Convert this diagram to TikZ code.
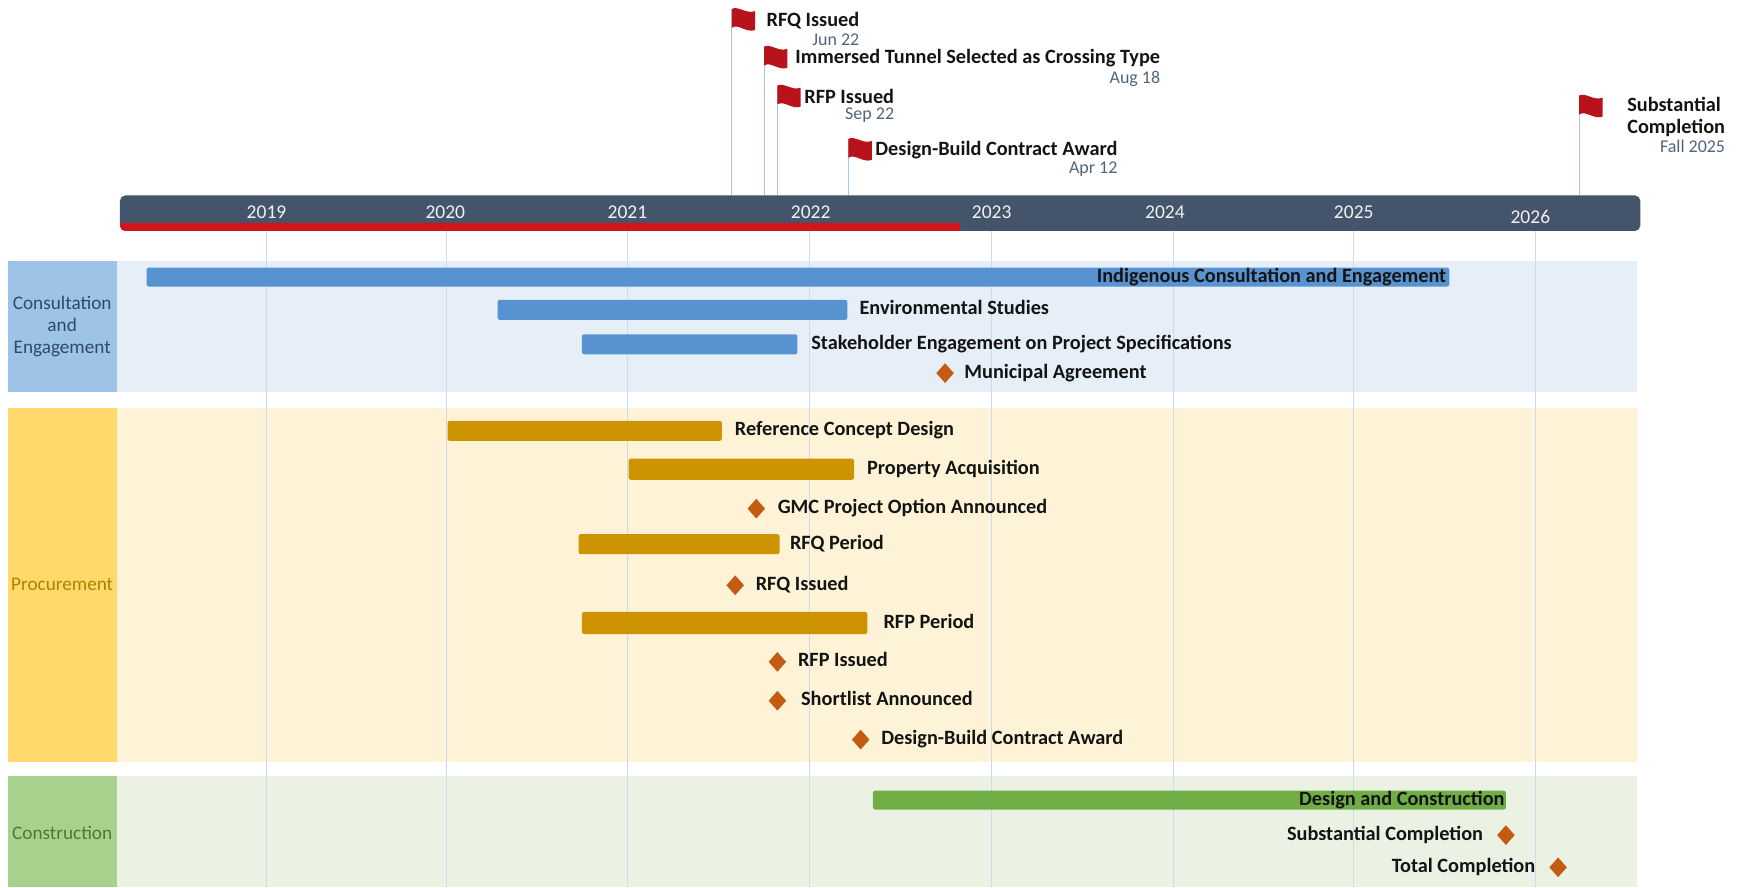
\documentclass[tikz,border=0pt]{standalone}
\usepackage{fontspec}
\setmainfont{Carlito}
\usepackage{tikz}
\usetikzlibrary{positioning,fit,shapes.geometric}

\definecolor{barslate}{HTML}{44546A}
\definecolor{stripred}{HTML}{D2141C}
\definecolor{flagred}{HTML}{B8121B}
\definecolor{gridblue}{HTML}{C9DCEF}
\definecolor{poleblue}{HTML}{A9C4E4}
\definecolor{consbox}{HTML}{9DC3E6}
\definecolor{consband}{HTML}{E6EEF8}
\definecolor{constxt}{HTML}{2F4A6B}
\definecolor{procbox}{HTML}{FFD96B}
\definecolor{procband}{HTML}{FFF3D7}
\definecolor{proctxt}{HTML}{B08000}
\definecolor{buildbox}{HTML}{A9D18E}
\definecolor{buildband}{HTML}{EBF2E3}
\definecolor{buildtxt}{HTML}{4E7A30}
\definecolor{taskblue}{HTML}{5693D0}
\definecolor{taskgold}{HTML}{CE9300}
\definecolor{taskgreen}{HTML}{70AD47}
\definecolor{mileorange}{HTML}{C55A11}
\definecolor{dategray}{HTML}{52647D}

\begin{document}
\begin{tikzpicture}[x=0.025cm, y=-0.025cm,
  lbl/.style={font=\fontsize{13}{15}\selectfont\bfseries, inner sep=0pt,
    text height=9pt, text depth=2.5pt, text=black!92},
  flaglbl/.style={font=\fontsize{13}{14.2}\selectfont\bfseries, inner sep=0pt, text=black!92},
  datelbl/.style={font=\fontsize{11.5}{13}\selectfont, inner sep=0pt, text=dategray},
  yearlbl/.style={font=\fontsize{12.5}{14}\selectfont, inner sep=0pt, text=white!92!barslate},
  seclbl/.style={font=\fontsize{12.3}{14.2}\selectfont, align=center, inner sep=0pt},
  secbox/.style={inner sep=0pt},
  taskbar/.style={inner sep=0pt, rounded corners=0.05cm},
  bluebar/.style={taskbar, fill=taskblue},
  goldbar/.style={taskbar, fill=taskgold},
  greenbar/.style={taskbar, fill=taskgreen},
  mile/.style={diamond, fill=mileorange, inner sep=0pt, minimum width=0.4cm, minimum height=0.45cm},
  grid/.style={gridblue, line width=0.6pt},
  pole/.style={poleblue, line width=0.6pt},
  timebar/.style={fill=barslate, inner sep=0pt, rounded corners=0.12cm},
  redflag/.pic={\fill[flagred] (0,0) .. controls (6,-3) and (13,5) .. (21,2)
    -- (21,19) .. controls (13,22) and (6,13) .. (0,17) -- cycle;}
]
\useasboundingbox (0,0) rectangle (1565,799);

% draw section bands
\fill[consband] (105,235) rectangle (1474,353);
\fill[procband] (105,367) rectangle (1474,686);
\fill[buildband] (105,699) rectangle (1474,799);

% draw section labels
\node[secbox, fill=consbox, fit={(7,235) (105,353)}] (sCons) {};
\node[seclbl, text=constxt] (tCons) at (sCons) {Consultation\\and\\Engagement};
\node[secbox, fill=procbox, fit={(7,367) (105,686)}] (sProc) {};
\node[seclbl, text=proctxt] (tProc) at (sProc) {Procurement};
\node[secbox, fill=buildbox, fit={(7,699) (105,799)}] (sBuild) {};
\node[seclbl, text=buildtxt] (tBuild) at ([yshift=-0.02cm]sBuild.center) {Construction};

% draw gridlines
\foreach \x in {240,402,565,729,893,1057,1219,1383}
  \draw[grid] (\x,208) -- (\x,799);

% consultation and engagement
\node[bluebar, fit={(132,241) (1305,258)}] (bInd) {};
\node[lbl, anchor=east] (lInd) at ([xshift=-0.07cm]bInd.east) {Indigenous Consultation and Engagement};
\node[bluebar, fit={(448,270) (763,288)}] (bEnv) {};
\node[lbl, right=0.26cm of bEnv] (lEnv) {Environmental Studies};
\node[bluebar, fit={(524,301) (718,319)}] (bStk) {};
\node[lbl, right=0.3cm of bStk] (lStk) {Stakeholder Engagement on Project Specifications};
\node[mile] (mMun) at (851,336) {};
\node[lbl, right=0.22cm of mMun] (lMun) {Municipal Agreement};

% procurement
\node[goldbar, fit={(403,379) (650,397)}] (bRef) {};
\node[lbl, right=0.28cm of bRef] (lRef) {Reference Concept Design};
\node[goldbar, fit={(566,413) (769,432)}] (bProp) {};
\node[lbl, right=0.28cm of bProp] (lProp) {Property Acquisition};
\node[mile] (mGmc) at (681,458) {};
\node[lbl, right=0.27cm of mGmc] (lGmc) {GMC Project Option Announced};
\node[goldbar, fit={(521,481) (702,499)}] (bRfq) {};
\node[lbl, right=0.22cm of bRfq] (lRfq) {RFQ Period};
\node[mile] (mRfq) at (662,527) {};
\node[lbl, right=0.25cm of mRfq] (lRfqI) {RFQ Issued};
\node[goldbar, fit={(524,551) (781,571)}] (bRfp) {};
\node[lbl, right=0.35cm of bRfp] (lRfp) {RFP Period};
\node[mile] (mRfp) at (700,596) {};
\node[lbl, right=0.25cm of mRfp] (lRfpI) {RFP Issued};
\node[mile] (mShort) at (700,631) {};
\node[lbl, right=0.32cm of mShort] (lShort) {Shortlist Announced};
\node[mile] (mDb) at (775,666) {};
\node[lbl, right=0.25cm of mDb] (lDb) {Design-Build Contract Award};

% construction
\node[greenbar, fit={(786,712) (1356,729)}] (bDc) {};
\node[lbl, anchor=east] (lDc) at ([xshift=-0.03cm]bDc.east) {Design and Construction};
\node[mile] (mSub) at (1356,752) {};
\node[lbl, left=0.3cm of mSub] (lSub) {Substantial Completion};
\node[mile] (mTot) at (1403,781) {};
\node[lbl, left=0.3cm of mTot] (lTot) {Total Completion};

% draw timeline
\node[timebar, fit={(108,176) (1477,208)}] (tbar) {};
\begin{scope}
  \clip[rounded corners=0.12cm] (108,176) rectangle (1477,208);
  \fill[stripred] (108,201) rectangle (864,208);
\end{scope}
\foreach \x/\yr in {240/2019,401/2020,565/2021,730/2022,893/2023,1049/2024,1219/2025}
  \node[yearlbl] (y\yr) at (\x,191) {\yr};
\node[yearlbl] (y2026) at (1378,195) {2026};

% draw flags
\foreach \n/\x/\y in {RFQ/659/8, Imm/688/42, RFP/700/77, DB/764/125, SC/1422/86} {
  \coordinate (f\n) at (\x,\y);
  \draw[pole] (f\n) -- (f\n |- tbar.north);
  \pic at (f\n) {redflag};
}
\node[flaglbl, anchor=west] (lfRFQ) at (690,19) {RFQ Issued};
\node[datelbl, anchor=east] (dfRFQ) at ([yshift=-0.41cm]lfRFQ.east) {Jun 22};
\node[flaglbl, anchor=west] (lfImm) at (716,52) {Immersed Tunnel Selected as Crossing Type};
\node[datelbl, anchor=east] (dfImm) at ([yshift=-0.48cm]lfImm.east) {Aug 18};
\node[flaglbl, anchor=west] (lfRFP) at (724,87) {RFP Issued};
\node[datelbl, anchor=east] (dfRFP) at ([yshift=-0.42cm]lfRFP.east) {Sep 22};
\node[flaglbl, anchor=west] (lfDB) at (788,135) {Design-Build Contract Award};
\node[datelbl, anchor=east] (dfDB) at ([yshift=-0.43cm]lfDB.east) {Apr 12};
\node[flaglbl, anchor=west, align=left] (lfSC) at (1465,105) {Substantial\\Completion};
\node[datelbl, anchor=east] (dfSC) at (lfSC.east |- 0,132) {Fall 2025};
\end{tikzpicture}
\end{document}
